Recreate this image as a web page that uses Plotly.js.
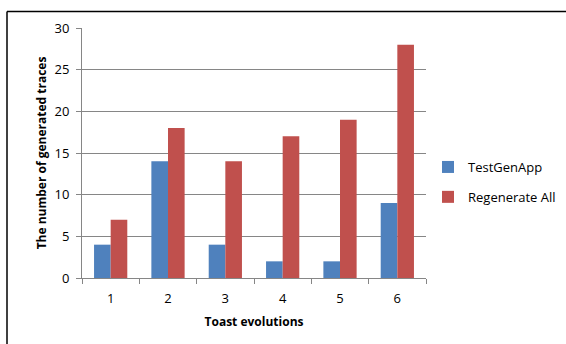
<!DOCTYPE html>
<html>
<head>
<meta charset="utf-8">
<script src="https://cdn.plot.ly/plotly-3.0.1.min.js"></script>
<style>html,body{margin:0;padding:0;background:#fff;}#chart{width:566px;height:344px;}</style>
</head>
<body>
<div id="chart"></div>
<script>
const categories = ["1", "2", "3", "4", "5", "6"];
const testGenApp = [4, 14, 4, 2, 2, 9];
const regenerateAll = [7, 18, 14, 17, 19, 28];
const seriesNames = ["TestGenApp", "Regenerate All"];
const yTicks = [0, 5, 10, 15, 20, 25, 30];

const font = "Open Sans, Noto Sans, sans-serif";
const L = 82, R = 426, T = 28, B = 278;
const pw = R - L, ph = B - T;
const px = v => (v - L) / pw;
const py = v => (B - v) / ph;

const traces = [
  {type: "bar", x: categories, y: testGenApp, name: seriesNames[0], legendgroup: "a",
   marker: {color: "#4F81BD"}},
  {type: "bar", x: categories, y: regenerateAll, name: seriesNames[1], legendgroup: "b",
   marker: {color: "#C0504D"}}
];

const layout = {
  width: 566, height: 344,
  margin: {l: L, r: 566 - R, t: T, b: 344 - B, pad: 0, autoexpand: false},
  paper_bgcolor: "#fff", plot_bgcolor: "#fff",
  barmode: "group", bargap: 0.42, bargroupgap: 0,
  font: {family: font, size: 13, color: "#000"},
  xaxis: {
    type: "category",
    showline: true, linecolor: "#868686", linewidth: 1,
    ticks: "outside", tickson: "boundaries", ticklen: 5, tickcolor: "#868686",
    ticklabelstandoff: 8,
    showgrid: false, zeroline: false,
    tickfont: {family: font, size: 13},
    title: {text: "<b>Toast evolutions</b>", font: {family: font, size: 12}, standoff: 12}
  },
  yaxis: {
    range: [0, 30], tickvals: yTicks,
    showline: true, linecolor: "#868686", linewidth: 1,
    ticks: "outside", ticklen: 5, tickcolor: "#868686",
    ticklabelstandoff: 4,
    showgrid: true, gridcolor: "#868686", gridwidth: 1, zeroline: false,
    tickfont: {family: font, size: 13},
    title: {text: "<b>The number of generated traces</b>", font: {family: font, size: 12}, standoff: 5}
  },
  legend: {
    x: px(428), y: py(152), xanchor: "left", yanchor: "top",
    font: {family: font, size: 13}, bgcolor: "rgba(0,0,0,0)",
    tracegroupgap: 10, traceorder: "grouped", itemwidth: 30
  },
  shapes: [
    {type: "line", xref: "paper", yref: "paper", x0: px(7), x1: px(566), y0: py(11.5), y1: py(11.5), line: {color: "#000", width: 1.5}},
    {type: "line", xref: "paper", yref: "paper", x0: px(7), x1: px(7), y0: py(11.5), y1: py(344), line: {color: "#000", width: 1.5}}
  ]
};

Plotly.newPlot("chart", traces, layout, {displayModeBar: false, staticPlot: true});
</script>
</body>
</html>
